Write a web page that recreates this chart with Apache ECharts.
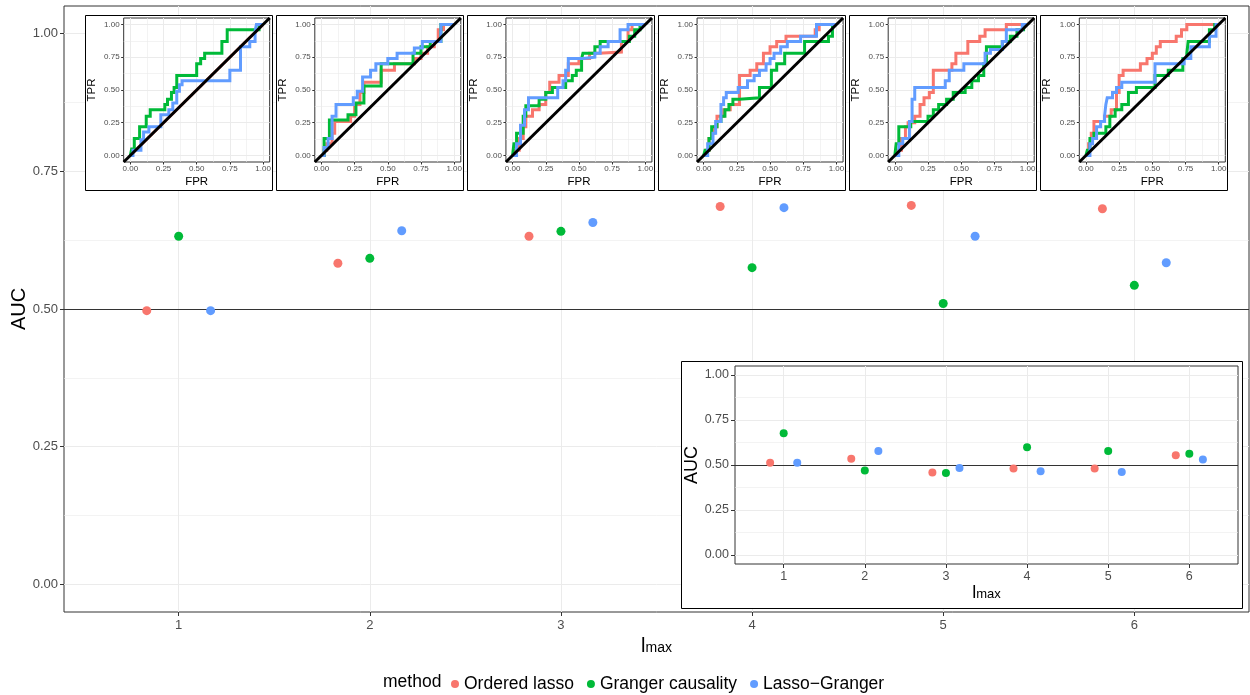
<!DOCTYPE html>
<html>
<head>
<meta charset="utf-8">
<script src="https://cdn.jsdelivr.net/npm/echarts@6/dist/echarts.min.js"></script>
<style>
  html, body { margin: 0; padding: 0; background: #fff; }
  #chart { width: 1250px; height: 695px; }
</style>
</head>
<body>
<div id="chart"></div>
<script>
// ---- data ----
const lmax = [1, 2, 3, 4, 5, 6];
const methods = ["Ordered lasso", "Granger causality", "Lasso\u2212Granger"];
const yTicks = [0, 0.25, 0.5, 0.75, 1];
const yMinorTicks = [0.125, 0.375, 0.625, 0.875];

// main panel AUC
const aucOrdered = [0.497, 0.583, 0.632, 0.686, 0.688, 0.682];
const aucGranger = [0.632, 0.592, 0.641, 0.575, 0.510, 0.543];
const aucLasso = [0.497, 0.642, 0.657, 0.684, 0.632, 0.584];

// lower-right inset AUC
const aucOrderedSmall = [0.513, 0.535, 0.458, 0.480, 0.480, 0.554];
const aucGrangerSmall = [0.677, 0.469, 0.456, 0.598, 0.578, 0.563];
const aucLassoSmall = [0.513, 0.578, 0.483, 0.465, 0.461, 0.530];

// ROC curves, [FPR, TPR] corners (step drawn horizontal then vertical)
const roc1Ordered = [[0, 0], [1, 1]];
const roc1Granger = [[0,0],[0.01,0.05],[0.03,0.13],[0.07,0.22],[0.12,0.30],[0.15,0.35],[0.26,0.39],[0.28,0.43],[0.31,0.48],[0.33,0.52],[0.35,0.61],[0.50,0.70],[0.53,0.74],[0.56,0.78],[0.69,0.87],[0.73,0.96],[0.97,1],[1,1]];
const roc1Lasso = [[0,0],[0.02,0.04],[0.08,0.12],[0.10,0.18],[0.14,0.22],[0.23,0.31],[0.29,0.35],[0.32,0.40],[0.35,0.49],[0.37,0.54],[0.39,0.57],[0.75,0.65],[0.83,0.83],[0.90,0.87],[0.94,0.95],[0.95,1],[1,1]];

const roc2Ordered = [[0,0],[0.02,0.04],[0.04,0.09],[0.08,0.17],[0.10,0.26],[0.22,0.30],[0.25,0.39],[0.29,0.48],[0.32,0.56],[0.45,0.65],[0.55,0.70],[0.70,0.74],[0.75,0.78],[0.80,0.83],[0.85,0.87],[0.88,0.96],[0.92,1],[1,1]];
const roc2Granger = [[0,0],[0.02,0.13],[0.06,0.27],[0.20,0.31],[0.26,0.40],[0.32,0.53],[0.45,0.70],[0.69,0.78],[0.75,0.83],[0.82,0.87],[0.90,1],[1,1]];
const roc2Lasso = [[0,0],[0.02,0.06],[0.05,0.13],[0.08,0.30],[0.11,0.39],[0.24,0.44],[0.27,0.49],[0.31,0.60],[0.37,0.65],[0.41,0.70],[0.50,0.74],[0.57,0.78],[0.70,0.82],[0.76,0.87],[0.90,1],[1,1]];

const roc3Ordered = [[0,0],[0.02,0.04],[0.05,0.13],[0.08,0.22],[0.10,0.30],[0.15,0.35],[0.20,0.39],[0.25,0.48],[0.28,0.56],[0.35,0.61],[0.42,0.70],[0.50,0.74],[0.58,0.78],[0.65,0.79],[0.82,0.87],[0.87,0.96],[0.90,1],[1,1]];
const roc3Granger = [[0,0],[0.01,0.09],[0.03,0.17],[0.08,0.30],[0.10,0.38],[0.20,0.43],[0.25,0.48],[0.30,0.52],[0.40,0.57],[0.45,0.61],[0.48,0.65],[0.52,0.74],[0.53,0.78],[0.62,0.83],[0.66,0.87],[0.88,0.91],[0.92,0.96],[0.96,1],[1,1]];
const roc3Lasso = [[0,0],[0.03,0.09],[0.06,0.23],[0.09,0.35],[0.12,0.44],[0.34,0.52],[0.38,0.57],[0.40,0.65],[0.42,0.74],[0.53,0.75],[0.62,0.78],[0.66,0.83],[0.72,0.87],[0.81,0.96],[0.87,1],[1,1]];

const roc4Ordered = [[0,0],[0.02,0.04],[0.04,0.13],[0.06,0.17],[0.08,0.22],[0.10,0.30],[0.15,0.35],[0.20,0.39],[0.27,0.61],[0.35,0.65],[0.40,0.70],[0.45,0.78],[0.50,0.83],[0.55,0.87],[0.62,0.91],[0.84,0.96],[0.87,1],[1,1]];
const roc4Granger = [[0,0],[0.01,0.04],[0.04,0.13],[0.06,0.22],[0.10,0.26],[0.13,0.30],[0.16,0.35],[0.19,0.39],[0.22,0.43],[0.27,0.44],[0.42,0.52],[0.51,0.65],[0.55,0.70],[0.61,0.78],[0.76,0.87],[0.94,0.91],[0.97,1],[1,1]];
const roc4Lasso = [[0,0],[0.03,0.09],[0.07,0.17],[0.09,0.26],[0.13,0.39],[0.15,0.44],[0.17,0.48],[0.26,0.52],[0.33,0.57],[0.38,0.61],[0.42,0.65],[0.47,0.70],[0.50,0.74],[0.53,0.78],[0.58,0.83],[0.63,0.87],[0.73,0.91],[0.85,1],[1,1]];

const roc5Ordered = [[0,0],[0.02,0.04],[0.05,0.13],[0.08,0.22],[0.10,0.25],[0.15,0.30],[0.19,0.39],[0.22,0.44],[0.26,0.48],[0.29,0.65],[0.43,0.70],[0.46,0.78],[0.55,0.87],[0.64,0.91],[0.68,0.96],[0.84,1],[1,1]];
const roc5Granger = [[0,0],[0.01,0.09],[0.03,0.22],[0.12,0.26],[0.25,0.30],[0.29,0.35],[0.33,0.39],[0.39,0.43],[0.44,0.48],[0.53,0.52],[0.58,0.57],[0.63,0.61],[0.67,0.70],[0.69,0.83],[0.81,0.87],[0.87,0.91],[0.92,0.96],[0.97,1],[1,1]];
const roc5Lasso = [[0,0],[0.03,0.09],[0.06,0.13],[0.11,0.26],[0.13,0.43],[0.15,0.52],[0.38,0.57],[0.41,0.65],[0.52,0.70],[0.68,0.78],[0.72,0.81],[0.81,0.87],[0.84,0.96],[0.96,1],[1,1]];

const roc6Ordered = [[0,0],[0.02,0.09],[0.04,0.17],[0.06,0.26],[0.14,0.30],[0.19,0.35],[0.23,0.48],[0.25,0.61],[0.28,0.65],[0.41,0.70],[0.46,0.74],[0.50,0.78],[0.53,0.83],[0.56,0.87],[0.68,0.91],[0.72,0.96],[0.76,1],[1,1]];
const roc6Granger = [[0,0],[0.01,0.04],[0.03,0.13],[0.06,0.17],[0.15,0.22],[0.18,0.30],[0.22,0.35],[0.27,0.39],[0.32,0.48],[0.38,0.52],[0.52,0.61],[0.62,0.65],[0.73,0.74],[0.76,0.78],[0.77,0.87],[0.93,0.96],[0.97,1],[1,1]];
const roc6Lasso = [[0,0],[0.03,0.09],[0.05,0.13],[0.08,0.22],[0.11,0.26],[0.14,0.30],[0.15,0.39],[0.16,0.44],[0.20,0.48],[0.23,0.52],[0.27,0.56],[0.52,0.70],[0.74,0.74],[0.79,0.83],[0.93,0.91],[0.98,1],[1,1]];

// ---- style / layout ----
const font = "Liberation Sans, Arial, Helvetica, sans-serif";
const colors = ["#F8766D", "#00BA38", "#619CFF"];
const grey = "#4D4D4D";
const dark = "#333333";
const gridCol = "#EBEBEB";
const dodge = [-0.167, 0, 0.167];
const xMin = 0.4, xMax = 6.6;      // discrete axis with ggplot expansion
const vMin = -0.05, vMax = 1.05;   // continuous axis with 5% expansion

const main = { left: 64, top: 6, width: 1185, height: 606 };
const small = { left: 735, top: 366, width: 503, height: 198 };

const aucMain = [aucOrdered, aucGranger, aucLasso];
const aucSmall = [aucOrderedSmall, aucGrangerSmall, aucLassoSmall];
const rocSets = [
  [roc1Ordered, roc1Granger, roc1Lasso],
  [roc2Ordered, roc2Granger, roc2Lasso],
  [roc3Ordered, roc3Granger, roc3Lasso],
  [roc4Ordered, roc4Granger, roc4Lasso],
  [roc5Ordered, roc5Granger, roc5Lasso],
  [roc6Ordered, roc6Granger, roc6Lasso]
];

function catX(v) {
  return main.left + (v - xMin) / (xMax - xMin) * main.width;
}
function fmt2(v) {
  return Number(v).toFixed(2);
}

const grids = [];
const xAxes = [];
const yAxes = [];
const series = [];
const graphics = [];

function addGrid(g) {
  // v6 would otherwise pull grids inward to fit labels
  g.outerBoundsMode = "none";
  g.containLabel = false;
  grids.push(g);
  return grids.length - 1;
}

function majorAxis(gridIndex, min, max, ticks, o) {
  let ax = {
    type: "value", gridIndex: gridIndex, min: min, max: max, z: o.z || 0,
    axisLine: { show: false, onZero: false },
    axisTick: { show: true, customValues: ticks, length: o.tickLen, lineStyle: { color: dark } },
    axisLabel: {
      customValues: ticks, formatter: o.fmt, fontSize: o.fs, color: grey,
      margin: o.margin, fontFamily: font
    },
    splitLine: { show: true, lineStyle: { color: gridCol, width: 1 } }
  };
  if (o.name) {
    ax.name = o.name;
    ax.nameLocation = "middle";
    ax.nameGap = o.nameGap;
    ax.nameRotate = o.nameRotate;
    ax.nameTextStyle = o.nameStyle;
    if (o.fixedName) ax.nameMoveOverlap = false;
  }
  return ax;
}
function minorAxis(gridIndex, min, max, ticks, z) {
  return {
    type: "value", gridIndex: gridIndex, min: min, max: max, z: z || 0,
    axisLine: { show: false, onZero: false },
    axisTick: { show: false, customValues: ticks },
    axisLabel: { show: false },
    splitLine: { show: true, lineStyle: { color: gridCol, width: 0.6 } }
  };
}
function hline(z) {
  return { silent: true, symbol: "none", z: z, label: { show: false },
    lineStyle: { color: dark, width: 1.2, type: "solid" }, data: [{ yAxis: 0.5 }] };
}

// ---- main panel ----
addGrid({ left: main.left, top: main.top, width: main.width, height: main.height,
  show: true, borderColor: dark, borderWidth: 1, backgroundColor: "transparent" });
xAxes.push(majorAxis(0, xMin, xMax, lmax, {
  tickLen: 4, fs: 13, margin: 7, fmt: function(v) { return String(Math.round(v)); },
  name: "{b|l}{s|max}", nameGap: 15,
  nameStyle: { color: "#000", fontFamily: font,
    rich: { b: { fontSize: 20, fontFamily: font, color: "#000", padding: [0, 0, 3, 0] },
            s: { fontSize: 14, fontFamily: font, color: "#000" } } }
}));
yAxes.push(majorAxis(0, vMin, vMax, yTicks, {
  tickLen: 4, fs: 13, margin: 6, fmt: fmt2,
  name: "AUC", nameGap: 35, nameRotate: 90, fixedName: true,
  nameStyle: { fontSize: 20, color: "#000", fontFamily: font }
}));
yAxes.push(minorAxis(0, vMin, vMax, yMinorTicks));

methods.forEach(function(m, k) {
  let s = {
    type: "scatter", name: m, xAxisIndex: 0, yAxisIndex: 0, z: 3,
    symbolSize: 9,
    itemStyle: { color: colors[k], opacity: 1 },
    data: lmax.map(function(l, i) { return [l + dodge[k], aucMain[k][i]]; })
  };
  if (k === 0) s.markLine = hline(2);
  series.push(s);
});

// ---- ROC insets ----
rocSets.forEach(function(set, k) {
  const cx = catX(lmax[k]);
  graphics.push({ type: "rect", z: 5,
    shape: { x: Math.round(cx - 94) + 0.5, y: 15.5, width: 187, height: 175 },
    style: { fill: "#fff", stroke: "#000", lineWidth: 1 } });
  const g = addGrid({ left: cx - 55, top: 18, width: 146, height: 144, z: 6,
    show: true, backgroundColor: "#fff", borderColor: dark, borderWidth: 1 });
  const xi = xAxes.length;
  xAxes.push(majorAxis(g, vMin, vMax, yTicks, {
    z: 7, tickLen: 2.5, fs: 8, margin: 3, fmt: fmt2,
    name: "FPR", nameGap: 14, nameStyle: { fontSize: 11.5, color: "#000", fontFamily: font }
  }));
  xAxes.push(minorAxis(g, vMin, vMax, yMinorTicks, 7));
  const yi = yAxes.length;
  yAxes.push(majorAxis(g, vMin, vMax, yTicks, {
    z: 7, tickLen: 2.5, fs: 8, margin: 4, fmt: fmt2,
    name: "TPR", nameGap: 26, nameRotate: 90,
    nameStyle: { fontSize: 11.5, color: "#000", fontFamily: font }
  }));
  yAxes.push(minorAxis(g, vMin, vMax, yMinorTicks, 7));

  set.forEach(function(curve, m) {
    series.push({
      type: "line", name: "roc" + (k + 1) + "-" + m, xAxisIndex: xi, yAxisIndex: yi, z: 8,
      // a two-point curve is the chance diagonal, not a staircase
      step: curve.length > 2 ? "end" : false,
      showSymbol: false, symbol: "none", silent: true,
      lineStyle: { color: colors[m], width: 3, join: "miter" },
      data: curve
    });
  });
  series.push({
    type: "line", name: "diag" + (k + 1), xAxisIndex: xi, yAxisIndex: yi, z: 9,
    showSymbol: false, symbol: "none", silent: true,
    lineStyle: { color: "#000", width: 3 },
    data: [[vMin, vMin], [vMax, vMax]]
  });
});

// ---- lower-right inset ----
graphics.push({ type: "rect", z: 5,
  shape: { x: 681.5, y: 361.5, width: 561, height: 247 },
  style: { fill: "#fff", stroke: "#000", lineWidth: 1 } });
const gs = addGrid({ left: small.left, top: small.top, width: small.width, height: small.height, z: 6,
  show: true, backgroundColor: "#fff", borderColor: dark, borderWidth: 1 });
const sxi = xAxes.length;
xAxes.push(majorAxis(gs, xMin, xMax, lmax, {
  z: 7, tickLen: 4, fs: 12.5, margin: 6, fmt: function(v) { return String(Math.round(v)); },
  name: "{b|l}{s|max}", nameGap: 15,
  nameStyle: { color: "#000", fontFamily: font,
    rich: { b: { fontSize: 18, fontFamily: font, color: "#000", padding: [0, 0, 3, 0] },
            s: { fontSize: 13, fontFamily: font, color: "#000" } } }
}));
const syi = yAxes.length;
yAxes.push(majorAxis(gs, vMin, vMax, yTicks, {
  z: 7, tickLen: 4, fs: 12.5, margin: 6, fmt: fmt2,
  name: "AUC", nameGap: 33, nameRotate: 90,
  nameStyle: { fontSize: 18, color: "#000", fontFamily: font }
}));
yAxes.push(minorAxis(gs, vMin, vMax, yMinorTicks, 7));

methods.forEach(function(m, k) {
  let s = {
    type: "scatter", name: "small-" + k, xAxisIndex: sxi, yAxisIndex: syi, z: 9,
    symbolSize: 8,
    itemStyle: { color: colors[k], opacity: 1 },
    data: lmax.map(function(l, i) { return [l + dodge[k], aucSmall[k][i]]; })
  };
  if (k === 0) s.markLine = hline(8);
  series.push(s);
});

// legend title
graphics.push({ type: "text", z: 5,
  style: { x: 383, y: 682, text: "method", fill: "#000", fontSize: 17.5,
    fontFamily: font, verticalAlign: "middle" } });

const chart = echarts.init(document.getElementById("chart"));
chart.setOption({
  animation: false,
  backgroundColor: "#fff",
  textStyle: { fontFamily: font },
  grid: grids,
  xAxis: xAxes,
  yAxis: yAxes,
  legend: {
    data: methods, left: 446, top: 670, icon: "circle",
    itemWidth: 8, itemHeight: 8, itemGap: 13, selectedMode: false,
    textStyle: { fontSize: 17.5, color: "#000", fontFamily: font }
  },
  graphic: { elements: graphics },
  series: series
});
</script>
</body>
</html>
